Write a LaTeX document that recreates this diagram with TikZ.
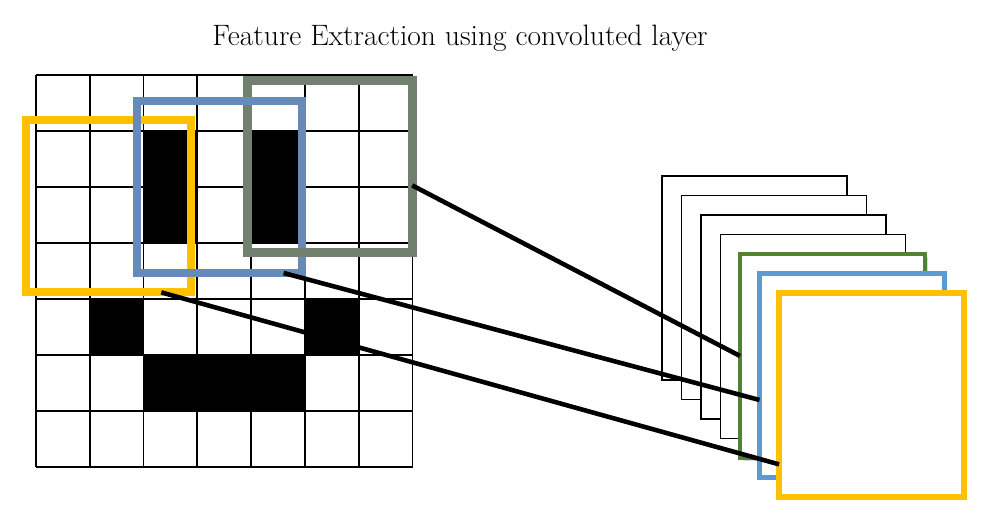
\documentclass[tikz,border=0pt]{standalone}
\usetikzlibrary{calc,shadows}
\definecolor{winyellow}{RGB}{255,192,0}
\definecolor{winblue}{RGB}{102,139,185}
\definecolor{wingreen}{RGB}{113,128,111}
\definecolor{mapgreen}{RGB}{84,130,53}
\definecolor{mapblue}{RGB}{91,155,213}

\begin{document}
\begin{tikzpicture}[
    x=0.02cm, y=-0.02cm,
    gridline/.style={line width=1pt},
    win/.style={draw, line width=4.5pt, inner sep=0pt, outer sep=0pt, minimum width=3.3cm, minimum height=3.44cm},
    fmap/.style={draw, fill=white, line width=0.8pt, inner sep=0pt, outer sep=0pt, minimum width=3.7cm, minimum height=4.08cm},
    cmap/.style={fmap, line width=2.8pt, drop shadow={shadow xshift=1.5pt, shadow yshift=-1.5pt, opacity=0.3}},
    conn/.style={line width=2.6pt},
]
\useasboundingbox (0,0) rectangle (983,519);

% title
\node[font=\fontsize{16.8}{20}\selectfont] (title) at (460,38) {Feature Extraction using convoluted layer};

% input image, 7x7 cells
\begin{scope}[shift={(36,75)}, x=1.076cm, y=-1.12cm]
  \fill (2,1) rectangle (3,3);
  \fill (4,1) rectangle (5,3);
  \fill (1,4) rectangle (2,5);
  \fill (5,4) rectangle (6,5);
  \fill (2,5) rectangle (5,6);
  \foreach \i in {0,...,7} {
    \draw[gridline] (\i,0) -- (\i,7);
    \draw[gridline] (0,\i) -- (7,\i);
  }
\end{scope}

% sliding windows
\node[win, draw=winyellow] (win1) at (108.5,206.4) {};
\node[win, draw=wingreen, line width=5pt] (win3) at (329.75,166.5) {};
\node[win, draw=winblue] (win2) at (219.25,187) {};
\draw[wingreen, line width=5pt] (win3.south west) -- (win3.south east);

% feature maps
\foreach \k in {0,...,3}
  \node[fmap] (map\k) at (754.5+19.5*\k, 278+19.5*\k) {};
\node[cmap, draw=mapgreen] (mapG) at (832.5,356) {};
\node[cmap, draw=mapblue] (mapB) at (852,375.5) {};
\node[cmap, draw=winyellow, line width=3.6pt] (mapY) at (871.5,395) {};

\draw[conn] ($(win3.north east)!0.61!(win3.south east)$) -- (mapG.west);
\draw[conn] ($(win2.south west)!0.89!(win2.south east)$) -- ($(mapB.north west)!0.62!(mapB.south west)$);
\draw[conn] ($(win1.south west)!0.82!(win1.south east)$) -- ($(mapY.north west)!0.84!(mapY.south west)$);
\end{tikzpicture}
\end{document}
